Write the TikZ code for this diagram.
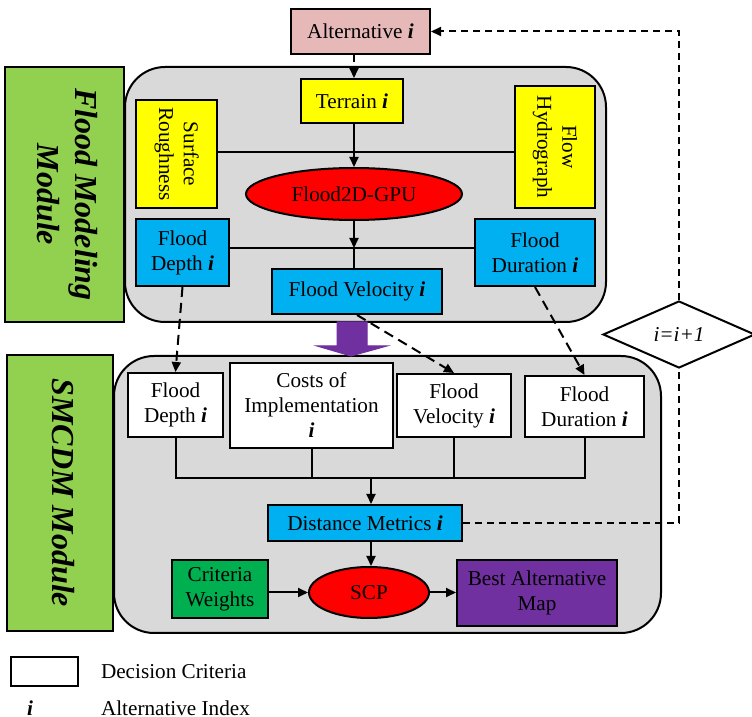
\documentclass[tikz,border=0pt]{standalone}
\usepackage{fontspec}
\setmainfont{Liberation Serif}
\usepackage{graphicx}
\usetikzlibrary{arrows.meta,shapes.geometric}
\definecolor{cpink}{HTML}{E6B9B8}
\definecolor{cyel}{HTML}{FFFF00}
\definecolor{cblue}{HTML}{00B0F0}
\definecolor{cred}{HTML}{FF0000}
\definecolor{cgreen}{HTML}{92D050}
\definecolor{cdgreen}{HTML}{00B050}
\definecolor{cpurple}{HTML}{7030A0}
\definecolor{cgray}{HTML}{D9D9D9}
\newcommand{\ii}{\textbf{\textit{i}}}
\newcommand{\rottext}[1]{\rotatebox{-90}{\begin{tabular}{@{}c@{}}#1\end{tabular}}}
\begin{document}
\begin{tikzpicture}[x=0.5pt,y=-0.5pt,
  font=\fontsize{10.6}{12.5}\selectfont, line width=1pt,
  box/.style={draw, line width=1pt, inner sep=0pt, align=center},
  ell/.style={draw, ellipse, line width=1pt, inner sep=0pt, fill=cred},
  modbox/.style={box, fill=cgreen, font=\fontsize{16}{19}\selectfont\bfseries\itshape},
  panel/.style={draw, line width=1pt, fill=cgray, rounded corners=20pt},
  arr/.style={-{Triangle[length=5pt,width=4.5pt]}},
  dsh/.style={dash pattern=on 5pt off 3pt},
  dshs/.style={dash pattern=on 3.5pt off 2.5pt}]
\useasboundingbox (0,0) rectangle (752,717);

% panels
\draw[panel] (125,67) rectangle (606,322);
\draw[panel] (114,356) rectangle (661,633);

% module labels
\node[modbox, minimum width=59.5pt, minimum height=127.5pt] (fmm) at (64.5,194.5)
  {\rottext{Flood Modeling\\Module}};
\node[modbox, minimum width=53pt, minimum height=138pt] (smm) at (60,493)
  {\rottext{SMCDM Module}};

% top
\node[box, fill=cpink, minimum width=69.5pt, minimum height=22.5pt] (alt) at (360.5,31.5) {Alternative \ii};
\coordinate (vx) at (354,0);

% flood modeling module
\node[box, fill=cyel, minimum width=51pt, minimum height=22pt] (ter) at (352,101) {Terrain \ii};
\node[box, fill=cyel, minimum width=40.5pt, minimum height=54pt] (sr) at (176.5,154) {\rottext{Surface\\Roughness}};
\node[box, fill=cyel, minimum width=40pt, minimum height=61pt] (fh) at (555,147) {\rottext{Flow\\Hydrograph}};
\node[ell, minimum width=108pt, minimum height=26pt] (gpu) at (354,194) {Flood2D-GPU};
\node[box, fill=cblue, minimum width=46.5pt, minimum height=33.5pt] (fdu) at (182.5,252.5) {Flood\\Depth \ii};
\node[box, fill=cblue, minimum width=60pt, minimum height=33.5pt] (fdru) at (535,252.5) {Flood\\Duration \ii};
\node[box, fill=cblue, minimum width=85pt, minimum height=22.5pt] (fvu) at (357,291.5) {Flood Velocity \ii};

\coordinate (hy1) at (0,152);
\coordinate (hy2) at (0,248);
\draw (sr.east |- hy1) -- (fh.west |- hy1);
\draw[arr] (ter.south -| vx) -- (gpu.north -| vx);
\draw (fdu.east |- hy2) -- (fdru.west |- hy2);
\draw[arr] (gpu.south -| vx) -- (vx |- hy2);
\draw (vx |- hy2) -- (fvu.north -| vx);

% purple block arrow
\draw[fill=cpurple, draw=cpurple, line width=0.5pt]
  (337,322) -- (367,322) -- (367,346) -- (387,346) -- (351,356) -- (317,346) -- (337,346) -- cycle;

% SMCDM module
\node[box, fill=white, minimum width=47.5pt, minimum height=32pt] (fdl) at (175.5,405) {Flood\\Depth \ii};
\node[box, fill=white, minimum width=81.5pt, minimum height=42.5pt] (cost) at (311.5,405.5) {Costs of\\Implementation\\\ii};
\node[box, fill=white, minimum width=57pt, minimum height=31.5pt] (fvl) at (454,405.5) {Flood\\Velocity \ii};
\node[box, fill=white, minimum width=59.5pt, minimum height=30.5pt] (fdrl) at (584.5,406.5) {Flood\\Duration \ii};

\node[box, fill=cblue, minimum width=97pt, minimum height=18pt] (dist) at (365,523) {Distance Metrics \ii};
\node[ell, minimum width=60pt, minimum height=25.5pt] (scp) at (369,592.5) {SCP};
\node[box, fill=cdgreen, minimum width=48pt, minimum height=29pt] (crit) at (220,589) {Criteria\\Weights};
\node[box, fill=cpurple, minimum width=80pt, minimum height=33pt] (best) at (537,593) {Best Alternative\\Map};

\coordinate (bus) at (371,478);
\draw (fdl.south) -- (fdl.south |- bus) -- (fdrl.south |- bus) -- (fdrl.south);
\draw (cost.south) -- (cost.south |- bus);
\draw (fvl.south) -- (fvl.south |- bus);
\draw[arr] (bus) -- (bus |- dist.north);
\draw[arr] (dist.south -| bus) -- (bus |- scp.north);
\draw[arr] (crit.east |- scp) -- (scp.west);
\draw[arr] (scp.east) -- (best.west |- scp);

% diamond
\node[draw, diamond, line width=1pt, inner sep=0pt, fill=white, minimum width=76pt, minimum height=33.5pt] (dia) at (679,334.5) {\textit{i=i+1}};

% dashed connectors
\draw[arr, dshs] (alt.south -| vx) -- (ter.north -| vx);
\draw[dshs] (dist.east) -- (dist.east -| dia.south) -- (dia.south);
\draw[arr, dshs] (dia.north) |- (alt.east);
\draw[arr, dsh] (fdu.south) -- (fdl.north);
\draw[arr, dsh] (fvu.south) -- (fvl.north);
\draw[arr, dsh] (fdru.south) -- (fdrl.north);

% legend
\node[box, fill=white, minimum width=33.5pt, minimum height=14.5pt] (leg) at (44.5,671.5) {};
\node[anchor=west, inner sep=0pt] (legt) at (100,672) {Decision Criteria};
\node[inner sep=0pt] (legi) at (30,708) {\ii};
\node[anchor=west, inner sep=0pt] (legit) at (100,708) {Alternative Index};
\end{tikzpicture}
\end{document}
